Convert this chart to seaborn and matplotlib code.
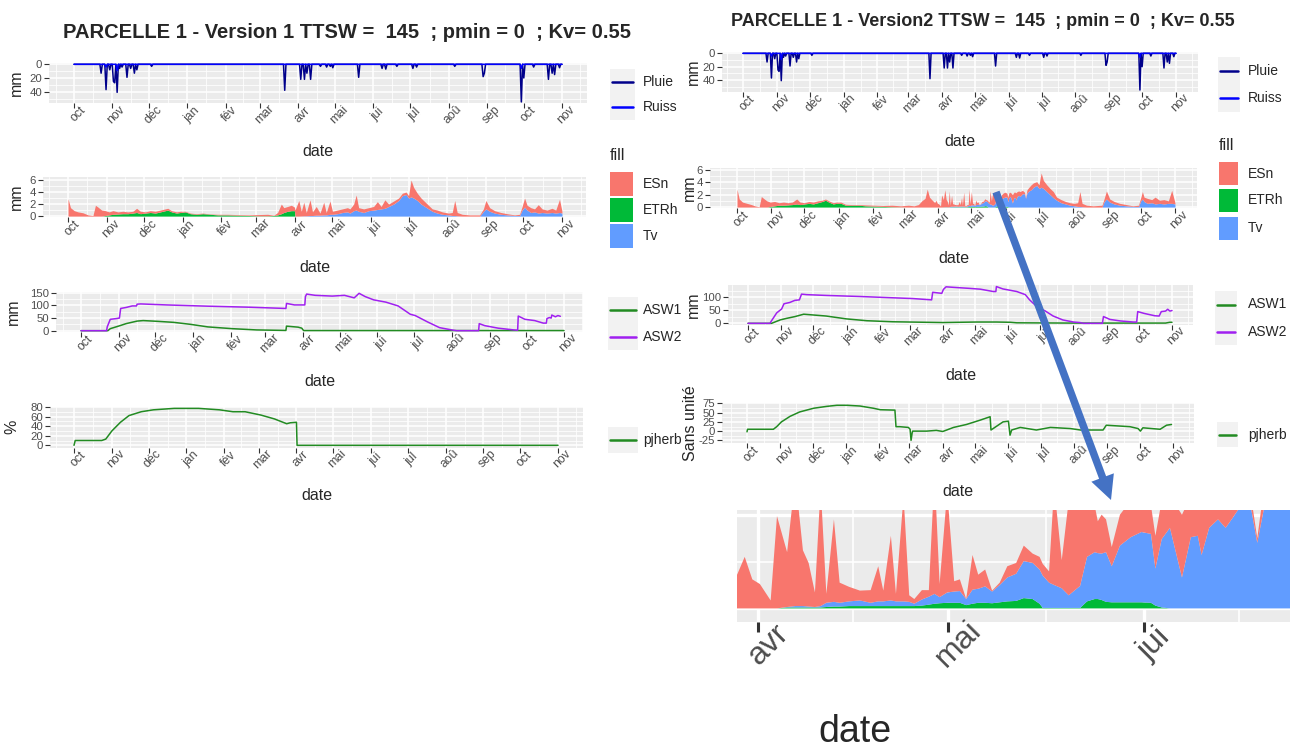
import numpy as np
import pandas as pd
import matplotlib
matplotlib.use("Agg")
import matplotlib.pyplot as plt
import matplotlib.dates as mdates
from matplotlib.patches import Rectangle, FancyArrow
import seaborn as sns

# Données ---------------------------------------------------------------------#

debut = pd.Timestamp("2020-10-01")      # jour 0 = 1er octobre
nb_jours = 396                         # jusqu'au 1er novembre suivant
mois = ["jan", "fév", "mar", "avr", "mai", "jui", "jul", "aoû", "sep", "oct", "nov", "déc"]

titre_v1 = "PARCELLE 1 - Version 1 TTSW =  145  ; pmin = 0  ; Kv= 0.55"
titre_v2 = "PARCELLE 1 - Version2 TTSW =  145  ; pmin = 0  ; Kv= 0.55"

# Pluie / ruissellement (jour, mm) - mêmes pluies dans les deux versions
pluie_jours = [22, 26, 29, 32, 33, 35, 37, 39, 43, 46,
               49, 51, 63, 171, 184, 187, 189, 192, 200, 205,
               208, 210, 231, 250, 253, 262, 275, 278, 309, 332,
               333, 363, 365, 373, 385, 388, 390, 394]
pluie_mm = [13, 37, 8, 25, 27, 41, 6, 4, 19, 6,
            13, 8, 3, 38, 22, 22, 13, 22, 3, 4,
            3, 5, 19, 6, 7, 3, 6, 4, 3, 18,
            13, 55, 20, 4, 22, 13, 15, 5]
ruiss_jours = [26, 35, 363]
ruiss_mm = [4, 9, 6]

# Version 1 : hauteurs cumulées (empilement ETRh, puis Tv, puis ESn)
v1_jours = [0, 2, 5, 8, 12, 16, 20, 22, 24, 27,
            30, 33, 36, 40, 44, 48, 52, 55, 58, 62,
            66, 70, 74, 78, 80, 83, 87, 90, 94, 98,
            103, 108, 114, 120, 128, 136, 145, 152, 160, 165,
            168, 171, 173, 176, 179, 181.5, 182, 185, 187, 189,
            191, 194, 196, 199, 202, 205, 207, 210, 212, 216,
            220, 224, 226, 229, 231, 233, 237, 241, 245, 248,
            251, 254, 257, 261, 265, 268, 271, 273, 275, 277,
            280, 283, 286, 289, 292, 296, 300, 305, 308, 310,
            312, 316, 322, 330, 333, 335, 338, 342, 347, 352,
            358, 362, 364, 366, 368, 371, 374, 377, 380, 384,
            388, 391, 394, 396]
v1_etrh = [0, 0, 0, 0, 0, 0, 0, 0, 0, 0,
           0.1, 0.2, 0.3, 0.35, 0.4, 0.4, 0.5, 0.6, 0.4, 0.5,
           0.6, 0.5, 0.7, 0.9, 1.0, 0.7, 0.5, 0.6, 0.7, 0.4,
           0.3, 0.4, 0.3, 0.2, 0.2, 0.15, 0.1, 0.05, 0.05, 0.1,
           0.2, 0.4, 0.6, 0.8, 0.9, 0.9, 0, 0, 0, 0,
           0, 0, 0, 0, 0, 0, 0, 0, 0, 0,
           0, 0, 0, 0, 0, 0, 0, 0, 0, 0,
           0, 0, 0, 0, 0, 0, 0, 0, 0, 0,
           0, 0, 0, 0, 0, 0, 0, 0, 0, 0,
           0, 0, 0, 0, 0, 0, 0, 0, 0, 0,
           0, 0, 0, 0, 0, 0, 0, 0, 0, 0,
           0, 0, 0, 0]
v1_haut_tv = [0, 0, 0, 0, 0, 0, 0, 0, 0, 0,
              0.1, 0.2, 0.3, 0.35, 0.4, 0.4, 0.5, 0.6, 0.4, 0.5,
              0.6, 0.5, 0.7, 0.9, 1.0, 0.7, 0.5, 0.6, 0.7, 0.4,
              0.3, 0.4, 0.3, 0.2, 0.2, 0.15, 0.1, 0.05, 0.05, 0.1,
              0.2, 0.4, 0.6, 0.8, 0.9, 0.9, 0, 0, 0.02, 0.05,
              0.05, 0.1, 0.1, 0.15, 0.15, 0.2, 0.2, 0.3, 0.3, 0.4,
              0.6, 0.7, 0.5, 0.9, 1.0, 0.8, 0.6, 0.9, 1.0, 1.1,
              1.2, 1.3, 1.6, 2.0, 2.6, 3.4, 3.6, 3.0, 3.2, 3.0,
              2.6, 2.0, 1.6, 1.2, 0.8, 0.5, 0.3, 0.2, 0.1, 0.1,
              0.05, 0, 0, 0, 0.8, 1.2, 0.8, 0.5, 0.3, 0.2,
              0.1, 0.1, 1.0, 1.5, 1.0, 0.6, 0.7, 0.5, 0.6, 0.5,
              0.6, 0.5, 0.6, 0.5]
v1_haut_esn = [2.9, 1.4, 0.9, 0.7, 0.55, 0.2, 0.1, 1.8, 1.5, 1.0,
               0.9, 0.7, 0.9, 0.7, 0.8, 0.7, 0.8, 1.3, 0.8, 0.7,
               0.9, 0.8, 1.0, 1.2, 1.3, 0.9, 0.7, 0.8, 0.8, 0.5,
               0.4, 0.5, 0.35, 0.3, 0.3, 0.25, 0.2, 0.25, 0.3, 0.15,
               0.6, 2.0, 1.4, 1.6, 1.8, 1.5, 1.0, 2.6, 0.8, 2.3,
               0.6, 2.7, 0.7, 1.6, 0.5, 2.3, 0.6, 2.5, 0.8, 1.0,
               1.2, 1.4, 1.2, 2.0, 3.5, 1.4, 1.2, 1.4, 1.6, 2.4,
               1.6, 2.7, 2.0, 2.5, 3.0, 3.8, 4.0, 3.4, 6.0, 4.8,
               3.8, 3.0, 2.4, 1.8, 1.2, 1.0, 0.7, 0.5, 0.6, 2.6,
               0.6, 0.3, 0.2, 0.2, 1.2, 2.6, 1.4, 0.9, 0.6, 0.4,
               0.2, 0.3, 1.6, 3.0, 1.8, 1.4, 1.2, 1.9, 1.2, 1.0,
               1.3, 1.0, 2.8, 0.8]

v1_asw1_jours = [0, 22, 24, 32, 37, 46, 51, 63, 76, 90,
                 104, 124, 144, 168, 168.5, 178, 181, 182.5, 396]
v1_asw1 = [0, 0, 8, 20, 28, 38, 40, 37, 33, 25,
           15, 8, 3, 1, 18, 14, 10, 0.5, 0.5]
v1_asw2_jours = [0, 21, 21.5, 24, 29, 31.5, 32.5, 37, 42, 45.5,
                 46, 49, 70, 104, 138, 168, 168.5, 175, 180, 183.5,
                 184, 185, 192, 206, 216, 224, 228, 233, 240, 250,
                 260, 270, 274, 284, 294, 304, 308, 326, 326.5, 331,
                 342, 355, 358, 358.5, 364, 372, 379, 381.5, 382, 384,
                 385.5, 386, 389, 391, 393]
v1_asw2 = [0, 0, 15, 45, 48, 50, 88, 92, 98, 98,
           105, 106, 102, 97, 93, 88, 108, 102, 102, 102,
           135, 145, 140, 137, 140, 130, 148, 135, 122, 113,
           98, 65, 60, 35, 12, 3, 0, 0, 28, 20,
           10, 3, 2, 58, 45, 40, 30, 30, 48, 52,
           50, 62, 55, 60, 57]
v1_pj_jours = [0, 1, 22.7, 26, 31, 38, 45, 55, 65, 82,
               102, 119, 130, 140, 153, 164, 174, 177, 182, 182.5, 396]
v1_pj = [0, 10, 10, 13, 30, 48, 62, 70, 74, 77,
         77, 74, 70, 70, 63, 55, 45, 47, 48, 0, 0]

v2_jours = [0, 2, 5, 9, 13, 16, 20, 22, 24, 27,
            30, 34, 38, 42, 46, 50, 54, 57, 61, 65,
            69, 73, 77, 80, 83, 87, 90, 94, 98, 104,
            110, 116, 124, 132, 140, 148, 155, 160, 164, 167,
            170, 172, 174, 176,
            178.7, 179.9, 181.1, 182.3, 184.0, 185.0, 186.6, 187.9, 189.1, 190.0,
            191.0, 191.9, 192.8, 194.0, 194.9, 196.4, 198.1, 199.8, 201.0, 201.8,
            203.0, 203.8, 205.0, 205.9, 206.7, 207.9, 209.0, 209.9, 210.7, 211.9,
            213.0, 213.9, 214.9, 215.9, 216.8, 217.9, 219.0, 220.2, 221.4, 222.8,
            224.0, 225.4, 226.5, 227.0, 228.0, 228.8, 230.0, 231.1, 232.9, 234.0,
            235.2, 235.7, 236.3, 237.0, 237.9, 239.2, 240.9, 242.6, 244.1, 244.8,
            245.8, 247.1, 249.0, 250.4, 251.5, 252.1, 253.3, 254.7, 255.9, 257.0,
            258.1, 259.9, 260.9, 262.2, 264, 266,
            268, 271, 273, 275, 277, 280, 283, 286, 289, 293,
            297, 301, 305, 308, 310, 312, 316, 322, 330, 332,
            334, 337, 341, 346, 352, 358, 363, 365, 366.5, 368,
            371, 375, 378, 382, 386, 390, 393, 396]
v2_etrh = [0, 0, 0, 0, 0, 0, 0, 0, 0, 0,
           0.1, 0.2, 0.3, 0.3, 0.35, 0.4, 0.5, 0.4, 0.5, 0.6,
           0.5, 0.7, 0.9, 1.1, 0.8, 0.5, 0.6, 0.6, 0.3, 0.3,
           0.3, 0.2, 0.15, 0.1, 0.05, 0.02, 0, 0, 0, 0,
           0, 0, 0, 0,
           0, 0, 0, 0, 0, 0, 0.02, 0.02, 0.02, 0.02,
           0.02, 0.02, 0.03, 0.04, 0.04, 0.05, 0.05, 0.05, 0.05, 0.05,
           0.05, 0.05, 0.05, 0.05, 0.05, 0.06, 0.08, 0.1, 0.11, 0.12,
           0.12, 0.12, 0.07, 0.1, 0.12, 0.12, 0.11, 0.13, 0.15, 0.16,
           0.22, 0.2, 0.1, 0.01, 0.01, 0.01, 0.01, 0.01, 0.01, 0.15,
           0.2, 0.2, 0.18, 0.14, 0.13, 0.13, 0.13, 0.13, 0.12, 0.06,
           0.02, 0, 0, 0, 0, 0, 0, 0, 0, 0,
           0, 0, 0, 0, 0, 0,
           0, 0, 0, 0, 0, 0, 0, 0, 0, 0,
           0, 0, 0, 0, 0, 0, 0, 0, 0, 0,
           0, 0, 0, 0, 0, 0, 0, 0, 0, 0,
           0, 0, 0, 0, 0, 0, 0, 0]
v2_haut_tv = [0, 0, 0, 0, 0, 0, 0, 0, 0, 0,
              0.1, 0.2, 0.3, 0.3, 0.35, 0.4, 0.5, 0.4, 0.5, 0.6,
              0.5, 0.7, 0.9, 1.1, 0.8, 0.5, 0.6, 0.6, 0.3, 0.3,
              0.3, 0.2, 0.15, 0.1, 0.05, 0.02, 0, 0, 0, 0,
              0, 0, 0, 0,
              0, 0, 0, 0, 0, 0, 0.03, 0.05, 0.05, 0.04,
              0.03, 0.05, 0.12, 0.14, 0.12, 0.15, 0.17, 0.12, 0.15, 0.15,
              0.17, 0.15, 0.15, 0.14, 0.1, 0.19, 0.25, 0.31, 0.24, 0.34,
              0.36, 0.37, 0.2, 0.4, 0.42, 0.47, 0.36, 0.5, 0.66, 0.74,
              1.01, 0.97, 0.83, 0.7, 0.55, 0.5, 0.43, 0.28, 0.48, 1.1,
              1.2, 1.18, 1.17, 1.2, 0.9, 1.34, 1.52, 1.63, 1.59, 0.85,
              1.48, 1.72, 0.66, 1.52, 1.55, 1.14, 1.72, 1.9, 1.72, 1.93,
              2.15, 2.15, 1.4, 2.3, 2.6, 2.8,
              3.2, 3.5, 3.0, 3.2, 3.0, 2.5, 2.0, 1.5, 1.1, 0.7,
              0.5, 0.3, 0.2, 0.1, 0.1, 0.05, 0, 0, 0, 0.9,
              1.3, 0.8, 0.5, 0.3, 0.2, 0.1, 0.1, 1.0, 1.3, 0.9,
              0.6, 0.7, 0.5, 0.6, 0.5, 0.6, 0.6, 0.5]
v2_haut_esn = [2.9, 1.3, 0.8, 0.6, 0.4, 0.2, 0.05, 1.7, 1.4, 1.0,
               0.8, 0.9, 0.7, 0.8, 0.7, 0.8, 1.3, 0.8, 0.7, 0.9,
               0.8, 1.0, 1.1, 1.3, 1.0, 0.7, 0.8, 0.8, 0.45, 0.4,
               0.4, 0.35, 0.3, 0.25, 0.3, 0.2, 0.3, 0.2, 0.4, 1.0,
               1.4, 2.9, 1.6, 1.2,
               0.72, 1.1, 0.62, 0.52, 0.17, 1.97, 1.2, 2.8, 1.24, 0.97,
               0.34, 2.6, 0.31, 1.9, 0.55, 0.46, 0.38, 0.39, 0.9, 0.38,
               1.55, 0.31, 2.4, 0.28, 0.2, 0.39, 0.39, 2.9, 0.52, 2.5,
               0.58, 0.62, 0.2, 1.14, 0.72, 0.83, 0.38, 0.55, 0.9, 0.97,
               1.34, 1.17, 1.1, 0.95, 0.79, 2.6, 1.03, 2.3, 2.4, 2.4,
               2.2, 1.86, 2.0, 1.9, 1.31, 2.0, 2.3, 2.4, 2.2, 1.55,
               2.3, 2.4, 2.0, 2.4, 2.4, 2.3, 2.5, 2.6, 2.5, 2.6,
               2.7, 2.4, 1.5, 2.8, 3.2, 3.6,
               3.9, 4.1, 3.6, 5.5, 4.3, 3.6, 3.0, 2.5, 1.6, 1.2,
               0.9, 0.7, 0.6, 0.7, 2.5, 0.6, 0.3, 0.2, 0.3, 1.4,
               2.6, 1.3, 0.9, 0.6, 0.4, 0.2, 0.3, 1.5, 2.5, 1.6,
               1.4, 1.2, 1.6, 1.1, 1.2, 1.0, 2.7, 0.7]

v2_asw1_jours = [0, 22, 30, 36, 44, 52, 58, 73, 92, 111,
                 135, 166, 182, 213, 232, 245, 251, 300, 390, 394, 396]
v2_asw1 = [0, 0, 13, 19, 26, 35, 33, 28, 17, 10,
           6, 4, 3, 5, 5, 4, 2, 1, 1, 4, 4]
v2_asw2_jours = [0, 20.5, 22, 26.8, 31.4, 33.6, 39, 43.7, 48, 50,
                 54.8, 73, 104, 135, 154, 171.5, 172.5, 181, 182.5, 185,
                 192, 207, 217, 229, 231.5, 232, 238, 251, 259, 263,
                 269, 274, 277, 285, 294, 304, 310, 313, 331, 332,
                 338, 348, 360, 363, 364, 370, 380, 384, 386, 390,
                 392, 394, 396]
v2_asw2 = [0, 0, 10, 40, 55, 75, 80, 88, 90, 112,
           110, 107, 103, 98, 95, 90, 119, 115, 130, 140,
           138, 134, 131, 122, 122, 141, 132, 122, 110, 90,
           67, 54, 49, 28, 13, 5, 3, 0, 0, 26,
           15, 9, 5, 5, 45, 38, 29, 28, 45, 47,
           54, 47, 49]
v2_pj_jours = [0, 0.5, 24.5, 27.6, 32, 40, 49, 62, 74, 83.6,
               93, 105, 117.5, 123.7, 136, 137.5, 138.5, 142, 150, 151.6,
               152.5, 153.5, 154, 167, 176, 182, 192, 204, 217, 226,
               226.8, 238, 243, 244.5, 246, 254, 269, 282, 300.5, 310,
               331, 334, 356, 363.5, 365.7, 368, 384, 390, 394.6]
v2_pj = [-2, 5, 5, 12, 25, 40, 52, 62, 67, 70,
         70, 68, 62, 58, 57, 57, 12, 12, 10, 5,
         -25, -5, 0, 0, 2, -1, 10, 18, 30, 39,
         3, 25, 27, -11, 3, 10, 3, 10, 7, 3,
         3, 16, 12, 7, 0, 9, 5, 16, 18]

# Style -----------------------------------------------------------------------#

C_PLUIE, C_RUISS = "#00008B", "#0000FF"
C_ESN, C_ETRH, C_TV = "#F8766D", "#00BA38", "#619CFF"
C_ASW1, C_ASW2, C_PJ = "#228B22", "#A020F0", "#228B22"
GRIS_TXT = "#4D4D4D"

sns.set_theme(style="darkgrid", rc={"axes.facecolor": "#EBEBEB", "grid.color": "white"})
plt.rcParams["font.family"] = ["Liberation Sans Narrow", "Liberation Sans", "DejaVu Sans"]

W, H = 1290, 749
fig = plt.figure(figsize=(W / 100, H / 100), dpi=100)
fig.patch.set_facecolor("white")

t0 = mdates.date2num(debut)
debuts_mois = pd.date_range("2020-09-01", "2021-12-01", freq="MS")
num_mois = mdates.date2num(debuts_mois)
milieux = (num_mois[:-1] + num_mois[1:]) / 2
etiq_mois = [mois[d.month - 1] for d in debuts_mois]


def boite(x0, y0, x1, y1):
    return [x0 / W, 1 - y1 / H, (x1 - x0) / W, (y1 - y0) / H]


def axe(cadre, x_ref, j_ref, px_jour, ylim):
    ax = fig.add_axes(boite(*cadre))
    ax.set_xlim(t0 + j_ref + (cadre[0] - x_ref) / px_jour,
                t0 + j_ref + (cadre[2] - x_ref) / px_jour)
    ax.set_ylim(ylim)
    return ax


def habiller(ax, cadre, yticks, ylabel, x_ylab, y_xlab, x_xlab=None,
             t_tick=8.8, t_lab=11.5, l_tick=3.5, w_tick=0.8, w_grid=1.1):
    x_g, y_h, x_d, y_b = cadre
    lo, hi = ax.get_xlim()
    garde = [i for i, p in enumerate(num_mois) if lo <= p <= hi]
    ax.set_xticks(num_mois[garde], [etiq_mois[i] for i in garde], rotation=45,
                  ha="center", va="top", rotation_mode="anchor",
                  fontsize=t_tick, color=GRIS_TXT)
    ax.set_xticks([m for m in milieux if lo <= m <= hi], minor=True)
    y_lo, y_hi = sorted(ax.get_ylim())
    if yticks:
        pas = yticks[1] - yticks[0]
        ax.set_yticks(yticks, [str(v) for v in yticks], fontsize=t_tick - 0.6, color=GRIS_TXT)
        mins = [v + pas / 2 for v in [yticks[0] - pas] + list(yticks)]
        ax.set_yticks([v for v in mins if y_lo <= v <= y_hi], minor=True)
    ax.tick_params(which="major", bottom=True, left=bool(yticks), labelleft=bool(yticks),
                   length=l_tick, width=w_tick, color="#333333", pad=1.5)
    ax.tick_params(which="minor", length=0)
    ax.grid(True, which="major", color="white", lw=w_grid)
    ax.grid(True, which="minor", color="white", lw=w_grid / 2)
    ax.set_axisbelow(True)
    for sp in ax.spines.values():
        sp.set_visible(False)
    ax.set_ylabel(ylabel, fontsize=t_lab)
    ax.yaxis.set_label_coords((x_ylab - x_g) / (x_d - x_g), 0.5)
    ax.yaxis.label.set_va("center")
    ax.set_xlabel("date", fontsize=t_lab)
    x_xlab = (x_g + x_d) / 2 if x_xlab is None else x_xlab
    ax.xaxis.set_label_coords((x_xlab - x_g) / (x_d - x_g), (y_b - y_xlab) / (y_b - y_h))
    ax.xaxis.label.set_va("center")


jours = np.arange(nb_jours + 1)
pluie = pd.Series(0.0, index=jours)
pluie.loc[pluie_jours] = pluie_mm
ruiss = pd.Series(0.0, index=jours)
ruiss.loc[ruiss_jours] = ruiss_mm


def trace_pluie(ax):
    sns.lineplot(x=t0 + jours, y=pluie.values, ax=ax, color=C_PLUIE, lw=1.1,
                 estimator=None, sort=False, legend=False)
    sns.lineplot(x=t0 + jours, y=ruiss.values, ax=ax, color=C_RUISS, lw=1.1,
                 estimator=None, sort=False, legend=False)


def trace_bilan(ax, j, etrh, haut_tv, haut_esn):
    x = t0 + np.array(j)
    ax.fill_between(x, 0, etrh, color=C_ETRH, lw=0)
    ax.fill_between(x, etrh, haut_tv, color=C_TV, lw=0)
    ax.fill_between(x, haut_tv, haut_esn, color=C_ESN, lw=0)


def trace_ligne(ax, j, v, couleur):
    sns.lineplot(x=t0 + np.array(j), y=v, ax=ax, color=couleur, lw=1.1,
                 estimator=None, sort=False, legend=False)


# Colonne gauche : version 1 --------------------------------------------------#

c = (49, 63, 587, 103.3)
ax = axe(c, 74, 0, (562 - 74) / nb_jours, (57, -1.9))
trace_pluie(ax)
habiller(ax, c, [0, 20, 40], "mm", 16, 152)

c = (43, 177, 586, 217.3)
ax = axe(c, 68, 0, (562 - 68) / nb_jours, (-0.2, 6.5))
trace_bilan(ax, v1_jours, v1_etrh, v1_haut_tv, v1_haut_esn)
habiller(ax, c, [0, 2, 4, 6], "mm", 16, 267)

c = (56, 292.3, 583, 331.7)
ax = axe(c, 81, 0, (564 - 81) / nb_jours, (-4, 152))
trace_ligne(ax, v1_asw1_jours, v1_asw1, C_ASW1)
trace_ligne(ax, v1_asw2_jours, v1_asw2, C_ASW2)
habiller(ax, c, [0, 50, 100, 150], "mm", 13, 381)

c = (50, 406.7, 583, 447.7)
ax = axe(c, 74, 0, (558 - 74) / nb_jours, (-5, 80.5))
trace_ligne(ax, v1_pj_jours, v1_pj, C_PJ)
habiller(ax, c, [0, 20, 40, 60, 80], "%", 12, 495)

# Colonne droite : version 2 --------------------------------------------------#

c = (722, 52, 1198, 92)
ax = axe(c, 743, 0, (1176 - 743) / nb_jours, (58, -2))
trace_pluie(ax)
habiller(ax, c, [0, 20, 40], "mm", 693, 142)

c = (710, 168, 1197, 208.3)
ax = axe(c, 737, 0, (1175 - 737) / nb_jours, (-0.2, 6.3))
trace_bilan(ax, v2_jours, v2_etrh, v2_haut_tv, v2_haut_esn)
habiller(ax, c, [0, 2, 4, 6], "mm", 689, 259)

c = (728, 285, 1193, 325)
ax = axe(c, 748, 0, (1172 - 748) / nb_jours, (-6.4, 147))
trace_ligne(ax, v2_asw1_jours, v2_asw1, C_ASW1)
trace_ligne(ax, v2_asw2_jours, v2_asw2, C_ASW2)
habiller(ax, c, [0, 50, 100], "mm", 693, 375)

c = (722, 402.7, 1194, 443.3)
ax = axe(c, 747, 0, (1173 - 747) / nb_jours, (-33, 77))
trace_ligne(ax, v2_pj_jours, v2_pj, C_PJ)
habiller(ax, c, [-25, 0, 25, 50, 75], "Sans unité", 691, 491)

# Zoom avril-juin de la version 2
c = (737, 510, 1290, 622)
ax = axe(c, 758, 182, (1144 - 758) / 61, (-0.29, 2.1))
trace_bilan(ax, v2_jours, v2_etrh, v2_haut_tv, v2_haut_esn)
habiller(ax, c, None, "", 700, 732, x_xlab=855, t_tick=23, t_lab=27,
         l_tick=7, w_tick=2.2, w_grid=2.4)
ax.set_yticks([0, 2])
ax.set_yticks([1], minor=True)
ax.tick_params(axis="y", which="both", left=False, labelleft=False)

# Titres, légendes, flèche (coordonnées en pixels) ----------------------------#

ov = fig.add_axes([0, 0, 1, 1], zorder=10)
ov.set_xlim(0, W)
ov.set_ylim(H, 0)
ov.axis("off")

ov.text(347, 32, titre_v1, ha="center", va="center", fontsize=14.5, fontweight="bold")
ov.text(983, 22, titre_v2, ha="center", va="center", fontsize=13, fontweight="bold")


def legende_lignes(x, y, w, h, entrees, x_txt):
    for i, (lab, coul) in enumerate(entrees):
        yy = y + i * h
        ov.add_patch(Rectangle((x, yy), w, h, color="#F2F2F2", lw=0))
        ov.plot([x + 2, x + w - 2], [yy + h / 2] * 2, color=coul, lw=1.8)
        ov.text(x_txt, yy + h / 2, lab, ha="left", va="center", fontsize=10)


def legende_fill(x, y_titre, w, hauts, h, x_txt):
    ov.text(x, y_titre, "fill", ha="left", va="center", fontsize=11.5)
    for yy, (lab, coul) in zip(hauts, [("ESn", C_ESN), ("ETRh", C_ETRH), ("Tv", C_TV)]):
        ov.add_patch(Rectangle((x, yy), w, h, color=coul, lw=0))
        ov.text(x_txt, yy + h / 2, lab, ha="left", va="center", fontsize=10)


legende_lignes(610, 69, 25, 25.5, [("Pluie", C_PLUIE), ("Ruiss", C_RUISS)], 643)
legende_fill(610, 156, 23, [172, 198, 224], 24, 643)
legende_lignes(608, 297, 30, 26.5, [("ASW1", C_ASW1), ("ASW2", C_ASW2)], 643)
legende_lignes(608, 427, 30, 26, [("pjherb", C_PJ)], 643)

legende_lignes(1218, 57, 22, 27.5, [("Pluie", C_PLUIE), ("Ruiss", C_RUISS)], 1248)
legende_fill(1219, 145, 19, [162, 189, 217], 23, 1248)
legende_lignes(1215, 291, 22, 27, [("ASW1", C_ASW1), ("ASW2", C_ASW2)], 1248)
legende_lignes(1217, 422, 21, 25, [("pjherb", C_PJ)], 1248)

ov.add_patch(FancyArrow(996, 192, 115, 308, width=7.5, head_width=24, head_length=24,
                        length_includes_head=True, color="#4472C4", lw=0))

fig.savefig("out.png", dpi=100)
